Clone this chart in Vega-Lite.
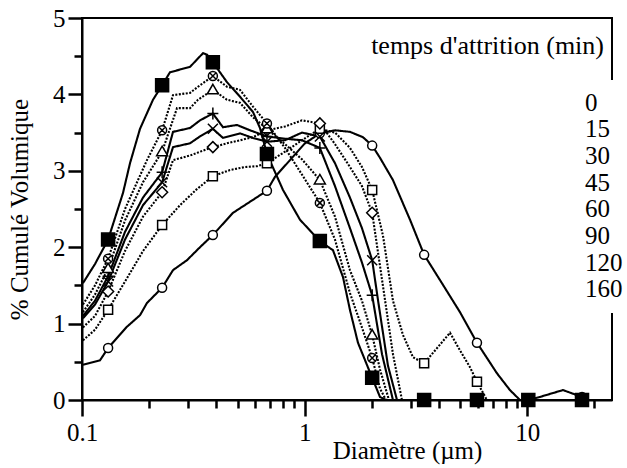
{
  "$schema": "https://vega.github.io/schema/vega-lite/v6.json",
  "width": 530,
  "height": 382,
  "autosize": {"type": "none"},
  "padding": {"left": 82, "top": 18, "right": 15, "bottom": 68},
  "background": "white",
  "config": {
    "font": "Liberation Serif, DejaVu Serif, serif",
    "view": {"stroke": "black", "strokeWidth": 2}
  },
  "title": {
    "text": "temps d'attrition (min)",
    "anchor": "end",
    "frame": "group",
    "orient": "top",
    "offset": -74,
    "dx": -8,
    "fontSize": 26,
    "fontWeight": "normal",
    "font": "Liberation Serif, DejaVu Serif, serif",
    "color": "black",
    "baseline": "alphabetic"
  },
  "datasets": {
    "curves": [
      {"t":"0","d":0.101,"v":0.46},{"t":"0","d":0.1205,"v":0.52},{"t":"0","d":0.131,"v":0.68},{"t":"0","d":0.1593,"v":0.96},{"t":"0","d":0.1822,"v":1.11},{"t":"0","d":0.1958,"v":1.27},{"t":"0","d":0.229,"v":1.47},{"t":"0","d":0.2563,"v":1.70},{"t":"0","d":0.2961,"v":1.83},{"t":"0","d":0.3388,"v":2.0},{"t":"0","d":0.387,"v":2.16},{"t":"0","d":0.4766,"v":2.45},{"t":"0","d":0.586,"v":2.62},{"t":"0","d":0.677,"v":2.74},{"t":"0","d":0.7356,"v":2.92},{"t":"0","d":0.859,"v":3.14},{"t":"0","d":1.003,"v":3.36},{"t":"0","d":1.17,"v":3.49},{"t":"0","d":1.368,"v":3.53},{"t":"0","d":1.597,"v":3.51},{"t":"0","d":1.827,"v":3.44},{"t":"0","d":2.01,"v":3.33},{"t":"0","d":2.179,"v":3.17},{"t":"0","d":2.49,"v":2.88},{"t":"0","d":2.972,"v":2.36},{"t":"0","d":3.44,"v":1.90},{"t":"0","d":4.052,"v":1.57},{"t":"0","d":4.983,"v":1.15},{"t":"0","d":5.94,"v":0.75},{"t":"0","d":7.302,"v":0.35},{"t":"0","d":8.353,"v":0.13},{"t":"0","d":9.265,"v":0},{"t":"0","d":10.1,"v":0},{"t":"0","d":11.39,"v":0.04},{"t":"0","d":14.45,"v":0.13},{"t":"0","d":17.6,"v":0.04},
      {"t":"15","d":0.101,"v":0.78},{"t":"15","d":0.1144,"v":0.92},{"t":"15","d":0.131,"v":1.18},{"t":"15","d":0.156,"v":1.55},{"t":"15","d":0.1879,"v":1.95},{"t":"15","d":0.229,"v":2.29},{"t":"15","d":0.2755,"v":2.55},{"t":"15","d":0.3251,"v":2.75},{"t":"15","d":0.387,"v":2.93},{"t":"15","d":0.462,"v":3.01},{"t":"15","d":0.5395,"v":3.05},{"t":"15","d":0.6107,"v":3.06},{"t":"15","d":0.677,"v":3.10},{"t":"15","d":0.8157,"v":3.25},{"t":"15","d":0.9725,"v":3.40},{"t":"15","d":1.17,"v":3.55},{"t":"15","d":1.368,"v":3.50},{"t":"15","d":1.597,"v":3.30},{"t":"15","d":1.808,"v":3.05},{"t":"15","d":2.01,"v":2.75},{"t":"15","d":2.248,"v":2.15},{"t":"15","d":2.492,"v":1.30},{"t":"15","d":2.764,"v":0.85},{"t":"15","d":3.065,"v":0.56},{"t":"15","d":3.44,"v":0.48},{"t":"15","d":4.494,"v":0.88},{"t":"15","d":4.983,"v":0.65},{"t":"15","d":5.524,"v":0.43},{"t":"15","d":5.94,"v":0.24},{"t":"15","d":6.585,"v":0},{"t":"15","d":10.1,"v":0},
      {"t":"30","d":0.101,"v":0.95},{"t":"30","d":0.1144,"v":1.10},{"t":"30","d":0.131,"v":1.42},{"t":"30","d":0.156,"v":1.95},{"t":"30","d":0.1879,"v":2.40},{"t":"30","d":0.229,"v":2.72},{"t":"30","d":0.2563,"v":3.14},{"t":"30","d":0.3055,"v":3.20},{"t":"30","d":0.3388,"v":3.25},{"t":"30","d":0.387,"v":3.31},{"t":"30","d":0.4479,"v":3.36},{"t":"30","d":0.5123,"v":3.40},{"t":"30","d":0.586,"v":3.44},{"t":"30","d":0.677,"v":3.53},{"t":"30","d":0.8157,"v":3.58},{"t":"30","d":0.9725,"v":3.66},{"t":"30","d":1.17,"v":3.62},{"t":"30","d":1.368,"v":3.35},{"t":"30","d":1.597,"v":3.05},{"t":"30","d":1.808,"v":2.80},{"t":"30","d":2.01,"v":2.45},{"t":"30","d":2.295,"v":1.31},{"t":"30","d":2.492,"v":0.60},{"t":"30","d":2.735,"v":0},{"t":"30","d":3.44,"v":0},
      {"t":"45","d":0.101,"v":1.07},{"t":"45","d":0.1144,"v":1.25},{"t":"45","d":0.131,"v":1.55},{"t":"45","d":0.156,"v":2.10},{"t":"45","d":0.1879,"v":2.55},{"t":"45","d":0.229,"v":2.85},{"t":"45","d":0.2563,"v":3.31},{"t":"45","d":0.3055,"v":3.36},{"t":"45","d":0.3388,"v":3.45},{"t":"45","d":0.387,"v":3.55},{"t":"45","d":0.4297,"v":3.43},{"t":"45","d":0.5123,"v":3.49},{"t":"45","d":0.586,"v":3.43},{"t":"45","d":0.677,"v":3.38},{"t":"45","d":0.8157,"v":3.40},{"t":"45","d":0.9725,"v":3.50},{"t":"45","d":1.17,"v":3.45},{"t":"45","d":1.368,"v":3.10},{"t":"45","d":1.597,"v":2.65},{"t":"45","d":1.808,"v":2.25},{"t":"45","d":2.01,"v":1.83},{"t":"45","d":2.134,"v":1.31},{"t":"45","d":2.366,"v":0.45},{"t":"45","d":2.598,"v":0},{"t":"45","d":3.44,"v":0},
      {"t":"60","d":0.101,"v":1.10},{"t":"60","d":0.1144,"v":1.30},{"t":"60","d":0.131,"v":1.62},{"t":"60","d":0.156,"v":2.20},{"t":"60","d":0.1879,"v":2.65},{"t":"60","d":0.229,"v":2.98},{"t":"60","d":0.2563,"v":3.51},{"t":"60","d":0.3055,"v":3.56},{"t":"60","d":0.3388,"v":3.66},{"t":"60","d":0.387,"v":3.75},{"t":"60","d":0.4297,"v":3.57},{"t":"60","d":0.4966,"v":3.60},{"t":"60","d":0.5681,"v":3.53},{"t":"60","d":0.677,"v":3.45},{"t":"60","d":0.8157,"v":3.42},{"t":"60","d":0.9725,"v":3.40},{"t":"60","d":1.17,"v":3.30},{"t":"60","d":1.368,"v":2.80},{"t":"60","d":1.597,"v":2.25},{"t":"60","d":1.808,"v":1.80},{"t":"60","d":2.01,"v":1.37},{"t":"60","d":2.225,"v":0.60},{"t":"60","d":2.492,"v":0},{"t":"60","d":3.44,"v":0},
      {"t":"90","d":0.101,"v":1.15},{"t":"90","d":0.1144,"v":1.38},{"t":"90","d":0.131,"v":1.72},{"t":"90","d":0.156,"v":2.35},{"t":"90","d":0.1879,"v":2.85},{"t":"90","d":0.229,"v":3.25},{"t":"90","d":0.2671,"v":3.82},{"t":"90","d":0.3055,"v":3.82},{"t":"90","d":0.3319,"v":3.93},{"t":"90","d":0.387,"v":4.06},{"t":"90","d":0.4479,"v":3.93},{"t":"90","d":0.5123,"v":3.89},{"t":"90","d":0.586,"v":3.70},{"t":"90","d":0.677,"v":3.55},{"t":"90","d":0.8157,"v":3.35},{"t":"90","d":0.9725,"v":3.15},{"t":"90","d":1.17,"v":2.88},{"t":"90","d":1.368,"v":2.40},{"t":"90","d":1.597,"v":1.70},{"t":"90","d":1.808,"v":1.30},{"t":"90","d":2.01,"v":0.85},{"t":"90","d":2.179,"v":0.40},{"t":"90","d":2.391,"v":0},{"t":"90","d":3.44,"v":0},
      {"t":"120","d":0.101,"v":1.25},{"t":"120","d":0.1144,"v":1.50},{"t":"120","d":0.131,"v":1.85},{"t":"120","d":0.156,"v":2.50},{"t":"120","d":0.1958,"v":3.14},{"t":"120","d":0.229,"v":3.53},{"t":"120","d":0.2563,"v":3.99},{"t":"120","d":0.3055,"v":4.02},{"t":"120","d":0.3319,"v":4.10},{"t":"120","d":0.387,"v":4.24},{"t":"120","d":0.4479,"v":4.10},{"t":"120","d":0.5123,"v":4.06},{"t":"120","d":0.586,"v":3.84},{"t":"120","d":0.677,"v":3.62},{"t":"120","d":0.8157,"v":3.30},{"t":"120","d":0.9725,"v":2.95},{"t":"120","d":1.17,"v":2.58},{"t":"120","d":1.368,"v":2.10},{"t":"120","d":1.597,"v":1.40},{"t":"120","d":1.808,"v":0.95},{"t":"120","d":2.01,"v":0.55},{"t":"120","d":2.179,"v":0.15},{"t":"120","d":2.319,"v":0},{"t":"120","d":3.44,"v":0},
      {"t":"160","d":0.101,"v":1.53},{"t":"160","d":0.1144,"v":1.78},{"t":"160","d":0.131,"v":2.10},{"t":"160","d":0.1528,"v":2.71},{"t":"160","d":0.1643,"v":3.10},{"t":"160","d":0.1822,"v":3.55},{"t":"160","d":0.2084,"v":3.93},{"t":"160","d":0.229,"v":4.12},{"t":"160","d":0.2484,"v":4.29},{"t":"160","d":0.3055,"v":4.36},{"t":"160","d":0.3495,"v":4.54},{"t":"160","d":0.3643,"v":4.52},{"t":"160","d":0.387,"v":4.42},{"t":"160","d":0.4479,"v":4.16},{"t":"160","d":0.5123,"v":3.97},{"t":"160","d":0.586,"v":3.77},{"t":"160","d":0.63,"v":3.56},{"t":"160","d":0.677,"v":3.22},{"t":"160","d":0.799,"v":2.75},{"t":"160","d":0.9526,"v":2.36},{"t":"160","d":1.17,"v":2.08},{"t":"160","d":1.34,"v":1.96},{"t":"160","d":1.486,"v":1.61},{"t":"160","d":1.597,"v":1.18},{"t":"160","d":1.735,"v":0.75},{"t":"160","d":2.01,"v":0.29},{"t":"160","d":2.179,"v":0.04},{"t":"160","d":2.319,"v":0},{"t":"160","d":3.44,"v":0},{"t":"160","d":5.94,"v":0},{"t":"160","d":10.1,"v":0},{"t":"160","d":17.6,"v":0}
    ],
    "markers": [
      {"t":"0","d":0.131,"v":0.68},{"t":"0","d":0.229,"v":1.47},{"t":"0","d":0.387,"v":2.16},{"t":"0","d":0.677,"v":2.74},{"t":"0","d":1.17,"v":3.49},{"t":"0","d":2.01,"v":3.33},{"t":"0","d":3.44,"v":1.90},{"t":"0","d":5.94,"v":0.75},{"t":"0","d":10.1,"v":0},{"t":"0","d":17.6,"v":0.04},
      {"t":"15","d":0.131,"v":1.18},{"t":"15","d":0.229,"v":2.29},{"t":"15","d":0.387,"v":2.93},{"t":"15","d":0.677,"v":3.10},{"t":"15","d":1.17,"v":3.55},{"t":"15","d":2.01,"v":2.75},{"t":"15","d":3.44,"v":0.48},{"t":"15","d":5.94,"v":0.24},{"t":"15","d":10.1,"v":0},
      {"t":"30","d":0.131,"v":1.42},{"t":"30","d":0.229,"v":2.72},{"t":"30","d":0.387,"v":3.31},{"t":"30","d":0.677,"v":3.53},{"t":"30","d":1.17,"v":3.62},{"t":"30","d":2.01,"v":2.45},{"t":"30","d":3.44,"v":0},
      {"t":"45","d":0.131,"v":1.55},{"t":"45","d":0.229,"v":2.85},{"t":"45","d":0.387,"v":3.55},{"t":"45","d":0.677,"v":3.38},{"t":"45","d":1.17,"v":3.45},{"t":"45","d":2.01,"v":1.83},{"t":"45","d":3.44,"v":0},
      {"t":"60","d":0.131,"v":1.62},{"t":"60","d":0.229,"v":2.98},{"t":"60","d":0.387,"v":3.75},{"t":"60","d":0.677,"v":3.45},{"t":"60","d":1.17,"v":3.30},{"t":"60","d":2.01,"v":1.37},{"t":"60","d":3.44,"v":0},
      {"t":"90","d":0.131,"v":1.72},{"t":"90","d":0.229,"v":3.25},{"t":"90","d":0.387,"v":4.06},{"t":"90","d":0.677,"v":3.55},{"t":"90","d":1.17,"v":2.88},{"t":"90","d":2.01,"v":0.85},{"t":"90","d":3.44,"v":0},
      {"t":"120","d":0.131,"v":1.85},{"t":"120","d":0.229,"v":3.53},{"t":"120","d":0.387,"v":4.24},{"t":"120","d":0.677,"v":3.62},{"t":"120","d":1.17,"v":2.58},{"t":"120","d":2.01,"v":0.55},{"t":"120","d":3.44,"v":0},
      {"t":"160","d":0.131,"v":2.10},{"t":"160","d":0.229,"v":4.12},{"t":"160","d":0.387,"v":4.42},{"t":"160","d":0.677,"v":3.22},{"t":"160","d":1.17,"v":2.08},{"t":"160","d":2.01,"v":0.29},{"t":"160","d":3.44,"v":0},{"t":"160","d":5.94,"v":0},{"t":"160","d":10.1,"v":0},{"t":"160","d":17.6,"v":0}
    ]
  },
  "encoding": {
    "x": {
      "field": "d",
      "type": "quantitative",
      "scale": {"type": "log", "domain": [0.1, 24], "nice": false},
      "axis": {
        "title": "Diamètre (µm)",
        "values": [0.1,0.2,0.3,0.4,0.5,0.6,0.7,0.8,0.9,1,2,3,4,5,6,7,8,9,10,20],
        "format": "~g",
        "labelExpr": "(datum.value < 0.15 || (datum.value > 0.95 && datum.value < 1.05) || (datum.value > 9.5 && datum.value < 10.5)) ? datum.label : ''",
        "tickSize": {"condition": {"test": "datum.value < 0.15 || (datum.value > 0.95 && datum.value < 1.05) || (datum.value > 9.5 && datum.value < 10.5)", "value": 16}, "value": 8},
        "tickWidth": 2.5,
        "tickColor": "black",
        "domainColor": "black",
        "domainWidth": 2,
        "grid": false,
        "labelFontSize": 25,
        "labelColor": "black",
        "labelPadding": 4,
        "labelFlush": false,
        "labelOverlap": false,
        "titleFontSize": 25,
        "titleFontWeight": "normal",
        "titleColor": "black",
        "titleX": 325,
        "titleY": 58,
        "titleBaseline": "alphabetic"
      }
    },
    "y": {
      "field": "v",
      "type": "quantitative",
      "scale": {"domain": [0, 5], "nice": false},
      "axis": {
        "title": "% Cumulé Volumique",
        "values": [0,0.5,1,1.5,2,2.5,3,3.5,4,4.5,5],
        "format": "~g",
        "labelExpr": "datum.value % 1 === 0 ? datum.label : ''",
        "tickSize": {"condition": {"test": "datum.value % 1 === 0", "value": 14}, "value": 8},
        "tickWidth": 2.5,
        "tickColor": "black",
        "domainColor": "black",
        "domainWidth": 2,
        "grid": false,
        "labelFontSize": 25,
        "labelColor": "black",
        "labelPadding": 3,
        "labelOverlap": false,
        "titleFontSize": 25,
        "titleFontWeight": "normal",
        "titleColor": "black",
        "titlePadding": 20
      }
    }
  },
  "resolve": {"scale": {"shape": "independent"}},
  "layer": [
    {
      "data": {"name": "curves"},
      "mark": {"type": "line", "color": "black", "strokeWidth": 2.1, "clip": true},
      "encoding": {
        "detail": {"field": "t", "type": "nominal"},
        "strokeDash": {"condition": {"test": "indexof(['15','30','90','120'], datum.t) >= 0", "value": [2, 1.5]}, "value": [1, 0]}
      }
    },
    {
      "data": {"name": "markers"},
      "mark": {"type": "point", "color": "black", "stroke": "black", "strokeWidth": 1.5, "size": 100, "opacity": 1, "clip": false},
      "encoding": {
        "fill": {"condition": {"test": "datum.t === '160'", "value": "black"}, "value": "white"},
        "shape": {
          "field": "t",
          "type": "nominal",
          "scale": {
            "range": [
              "M-0.9,0A0.9,0.9 0 1,1 0.9,0A0.9,0.9 0 1,1 -0.9,0Z",
              "M-0.9,0A0.9,0.9 0 1,1 0.9,0A0.9,0.9 0 1,1 -0.9,0ZM-0.6,-0.6L0.6,0.6M-0.6,0.6L0.6,-0.6",
              "M-0.9,-0.9H0.9V0.9H-0.9Z",
              "M-1.3,-1.3H1.3V1.3H-1.3Z",
              "M-1.1,0L0,-1.1L1.1,0L0,1.1Z",
              "M-1,-1L1,1M-1,1L1,-1",
              "M-1.1,0H1.1M0,-1.2V1.2",
              "M0,-1.1L1.1,0.8H-1.1Z"
            ]
          },
          "legend": null
        }
      }
    },
    {
      "data": {"name": "markers"},
      "transform": [{"filter": "datum.v > 100"}],
      "mark": {"type": "point", "color": "black", "stroke": "black", "fill": "white", "strokeWidth": 1.5, "size": 80, "opacity": 1},
      "encoding": {
        "shape": {
          "field": "t",
          "type": "nominal",
          "scale": {
            "domain": ["0","15","30","45","60","90","120","160"],
            "range": ["circle", "square", "diamond", "cross", "stroke", "triangle-up", "circle", "square"]
          },
          "legend": {
            "orient": "none",
            "legendX": 383,
            "legendY": 62,
            "title": null,
            "symbolSize": 80,
            "symbolStrokeWidth": 1.5,
            "symbolStrokeColor": "black",
            "symbolFillColor": "white",
            "symbolOpacity": 1,
            "symbolOffset": 40,
            "labelFontSize": 25,
            "labelColor": "black",
            "labelOffset": 45,
            "rowPadding": 0.7,
            "padding": 10,
            "fillColor": "white"
          }
        }
      }
    }
  ]
}
